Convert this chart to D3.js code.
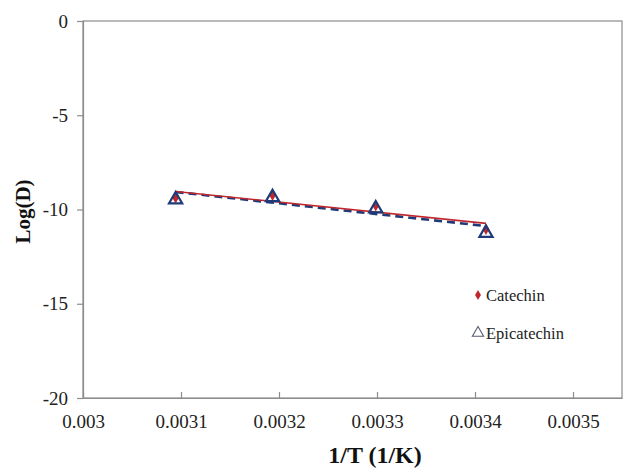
<!DOCTYPE html>
<html>
<head>
<meta charset="utf-8">
<script src="https://cdn.jsdelivr.net/npm/d3@7"></script>
<style>
  html, body { margin: 0; padding: 0; background: #fff; }
  svg { display: block; }
  svg text { font-family: "Liberation Serif", "Times New Roman", serif; }
</style>
</head>
<body>
<svg id="chart" width="623" height="471"></svg>
<script>
// Inverse temperature (1/K) for 50, 40, 30 and 20 °C
const invT = [0.0030945, 0.0031934, 0.0032987, 0.0034112];
// Log of diffusion coefficient
const catechin = [-9.38, -9.25, -9.80, -11.05];
const epicatechin = [-9.42, -9.30, -9.90, -11.20];
const xTicks = [0.003, 0.0031, 0.0032, 0.0033, 0.0034, 0.0035];
const yTicks = [0, -5, -10, -15, -20];
const seriesNames = ["Catechin", "Epicatechin"];

const svg = d3.select("#chart");
const plot = { left: 83, top: 21, right: 622, bottom: 398 };

const x = d3.scaleLinear().domain([0.003, 0.00355]).range([plot.left, plot.right]);
const y = d3.scaleLinear().domain([-20, 0]).range([plot.bottom, plot.top]);

const axisColor = "#8c8c8c";

// plot area frame
svg.append("rect")
  .attr("x", plot.left).attr("y", plot.top)
  .attr("width", plot.right - plot.left).attr("height", plot.bottom - plot.top)
  .attr("fill", "none").attr("stroke", axisColor).attr("stroke-width", 1.2);

// y axis
const yAxis = svg.append("g")
  .attr("transform", `translate(${plot.left},0)`)
  .call(d3.axisLeft(y).tickValues(yTicks).tickSize(6).tickPadding(9).tickFormat(d3.format("d")));
yAxis.attr("font-family", null).attr("font-size", null);
yAxis.select(".domain").attr("stroke", axisColor).attr("stroke-width", 1.2);
yAxis.selectAll(".tick line").attr("stroke", axisColor).attr("stroke-width", 1.2);
yAxis.selectAll(".tick text")
  .style("font-size", "19px").attr("fill", "#222")
  .text(d => d < 0 ? "-" + Math.abs(d) : d);

// x axis, ticks point inward
const xAxis = svg.append("g")
  .attr("transform", `translate(0,${plot.bottom})`)
  .call(d3.axisBottom(x).tickValues(xTicks).tickSize(0).tickPadding(17).tickFormat(d => String(+d.toFixed(4))));
xAxis.attr("font-family", null).attr("font-size", null);
xAxis.select(".domain").attr("stroke", axisColor).attr("stroke-width", 1.2);
xAxis.selectAll(".tick").append("line")
  .attr("y1", 0).attr("y2", -6).attr("stroke", axisColor).attr("stroke-width", 1.2);
xAxis.selectAll(".tick text")
  .style("font-size", "19px").attr("fill", "#222");

// axis titles
svg.append("text")
  .attr("x", 375).attr("y", 463)
  .attr("text-anchor", "middle")
  .style("font-size", "24px").attr("font-weight", "bold").attr("fill", "#111")
  .text("1/T (1/K)");
svg.append("text")
  .attr("transform", `translate(30,${(plot.top + plot.bottom) / 2 + 2}) rotate(-90)`)
  .attr("text-anchor", "middle")
  .style("font-size", "21px").attr("font-weight", "bold").attr("fill", "#111")
  .text("Log(D)");

// least-squares trend line over the measured range
function fit(xs, ys) {
  const mx = d3.mean(xs), my = d3.mean(ys);
  const sxy = d3.sum(xs, (v, i) => (v - mx) * (ys[i] - my));
  const sxx = d3.sum(xs, v => (v - mx) * (v - mx));
  const b = sxy / sxx, a = my - b * mx;
  const x0 = d3.min(xs), x1 = d3.max(xs);
  return [[x0, a + b * x0], [x1, a + b * x1]];
}
const line = d3.line().x(d => x(d[0])).y(d => y(d[1]));

const red = "#c0272d";
const navy = "#1f3a78";

svg.append("path")
  .attr("d", line(fit(invT, epicatechin)))
  .attr("fill", "none").attr("stroke", navy).attr("stroke-width", 2.6)
  .attr("stroke-dasharray", "8,5");
svg.append("path")
  .attr("d", line(fit(invT, catechin)))
  .attr("fill", "none").attr("stroke", red).attr("stroke-width", 1.6);

// markers
const diamond = d3.symbol().type(d3.symbolDiamond).size(38);
const triangle = d3.symbol().type(d3.symbolTriangle).size(75);

svg.append("g").selectAll("path")
  .data(invT.map((v, i) => [v, catechin[i]]))
  .join("path")
  .attr("transform", d => `translate(${x(d[0])},${y(d[1])})`)
  .attr("d", diamond).attr("fill", red);

svg.append("g").selectAll("path")
  .data(invT.map((v, i) => [v, epicatechin[i]]))
  .join("path")
  .attr("transform", d => `translate(${x(d[0])},${y(d[1]) + 1})`)
  .attr("d", triangle).attr("fill", "none").attr("stroke", navy).attr("stroke-width", 2.2);

// legend
const legend = svg.append("g").attr("fill", "#222");
legend.append("path")
  .attr("transform", "translate(478,295)")
  .attr("d", d3.symbol().type(d3.symbolDiamond).size(30)).attr("fill", red);
legend.append("text").attr("x", 486).attr("y", 301).style("font-size", "16.5px").text(seriesNames[0]);
legend.append("path")
  .attr("transform", "translate(478,333)")
  .attr("d", d3.symbol().type(d3.symbolTriangle).size(55))
  .attr("fill", "none").attr("stroke", "#555a70").attr("stroke-width", 1.1);
legend.append("text").attr("x", 486).attr("y", 339).style("font-size", "16.5px").text(seriesNames[1]);
</script>
</body>
</html>
